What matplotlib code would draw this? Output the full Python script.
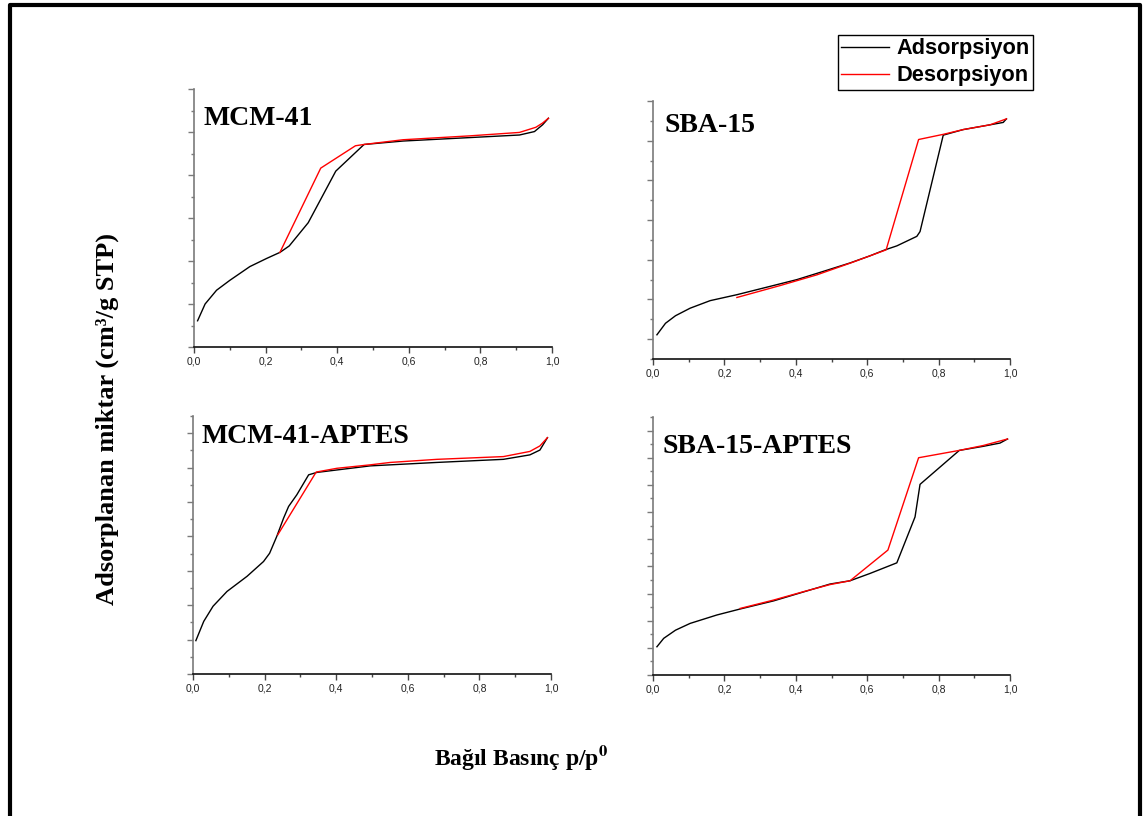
import matplotlib
matplotlib.use("Agg")
import matplotlib.pyplot as plt
from matplotlib.lines import Line2D
from matplotlib.ticker import MultipleLocator, FuncFormatter

plt.rcParams['mathtext.fontset'] = 'stix'

W, H = 1144, 816

# MCM-41 isotherm (y in arbitrary units)
mcm_ads_x = [0.010, 0.031, 0.063, 0.100, 0.156, 0.203, 0.240, 0.266, 0.319, 0.396, 0.475,
             0.584, 0.770, 0.909, 0.951, 0.974, 0.990]
mcm_ads_y = [61, 100, 132, 155, 187, 206, 220, 235, 289, 409, 471,
             479, 487, 493, 501, 517, 532]
mcm_des_x = [0.990, 0.974, 0.955, 0.909, 0.770, 0.584, 0.475, 0.451, 0.354, 0.240]
mcm_des_y = [532, 521, 511, 499, 491, 482, 471, 468, 416, 220]

# SBA-15 isotherm
sba_ads_x = [0.011, 0.035, 0.063, 0.104, 0.160, 0.235, 0.328, 0.403, 0.478, 0.552, 0.608,
             0.650, 0.683, 0.739, 0.748, 0.813, 0.869, 0.944, 0.981, 0.990]
sba_ads_y = [11, 40, 59, 78, 97, 112, 133, 150, 171, 192, 210,
             225, 235, 259, 271, 514, 528, 540, 546, 555]
sba_des_x = [0.990, 0.944, 0.869, 0.813, 0.744, 0.653, 0.608, 0.557, 0.459, 0.356, 0.235]
sba_des_y = [555, 540, 528, 516, 503, 225, 210, 193, 162, 135, 105]

# MCM-41-APTES isotherm
mcma_ads_x = [0.008, 0.030, 0.056, 0.095, 0.151, 0.197, 0.214, 0.234, 0.253, 0.267, 0.290,
              0.323, 0.346, 0.495, 0.681, 0.867, 0.941, 0.969, 0.990]
mcma_ads_y = [97, 153, 197, 240, 284, 327, 351, 400, 453, 487, 521,
              579, 586, 605, 615, 624, 637, 651, 687]
mcma_des_x = [0.990, 0.969, 0.941, 0.867, 0.681, 0.551, 0.495, 0.402, 0.344, 0.237]
mcma_des_y = [687, 663, 647, 632, 624, 615, 608, 598, 587, 405]

# SBA-15-APTES isotherm
sbaa_ads_x = [0.011, 0.030, 0.063, 0.104, 0.179, 0.244, 0.338, 0.422, 0.496, 0.552, 0.608,
              0.683, 0.734, 0.748, 0.858, 0.925, 0.972, 0.993]
sbaa_ads_y = [104, 135, 165, 190, 221, 243, 273, 306, 335, 347, 374,
              413, 582, 702, 827, 842, 854, 869]
sbaa_des_x = [0.993, 0.925, 0.858, 0.744, 0.658, 0.552, 0.496, 0.422, 0.338, 0.244]
sbaa_des_y = [869, 845, 827, 800, 460, 347, 333, 307, 276, 245]

panel_names = ["MCM-41", "SBA-15", "MCM-41-APTES", "SBA-15-APTES"]
x_ticks = [0.0, 0.2, 0.4, 0.6, 0.8, 1.0]


def px_axes(fig, left, top, right, bottom):
    return fig.add_axes([left / W, 1 - bottom / H, (right - left) / W, (bottom - top) / H])


def style_axes(ax, ylim):
    ax.set_xlim(0, 1.0)
    ax.set_ylim(*ylim)
    for s in ['top', 'right']:
        ax.spines[s].set_visible(False)
    ax.spines['left'].set_color('#7a7a7a')
    ax.spines['bottom'].set_color('#111111')
    ax.spines['left'].set_linewidth(1.2)
    ax.spines['bottom'].set_linewidth(1.2)
    ax.set_xticks(x_ticks)
    ax.xaxis.set_minor_locator(MultipleLocator(0.1))
    ax.yaxis.set_major_locator(MultipleLocator(100))
    ax.yaxis.set_minor_locator(MultipleLocator(50))
    ax.xaxis.set_major_formatter(FuncFormatter(lambda v, p: f"{v:.1f}".replace('.', ',')))
    ax.set_yticklabels([])
    ax.tick_params(axis='x', which='major', length=4, width=1, color='#444444',
                   labelsize=7.5, labelcolor='#222222', pad=3)
    ax.tick_params(axis='x', which='minor', length=2, width=1, color='#444444')
    ax.tick_params(axis='y', which='major', length=4, width=1, color='#7a7a7a')
    ax.tick_params(axis='y', which='minor', length=2, width=1, color='#7a7a7a')
    for lab in ax.get_xticklabels():
        lab.set_family('Liberation Sans')


fig = plt.figure(figsize=(W / 100, H / 100), dpi=100)
fig.patch.set_facecolor('white')

ax1 = px_axes(fig, 194, 89, 552, 347)
ax2 = px_axes(fig, 653, 101, 1010, 359)
ax3 = px_axes(fig, 193, 416, 551, 674)
ax4 = px_axes(fig, 653, 417, 1010, 675)

panels = [
    (ax1, mcm_ads_x, mcm_ads_y, mcm_des_x, mcm_des_y, (0, 600)),
    (ax2, sba_ads_x, sba_ads_y, sba_des_x, sba_des_y, (-50, 600)),
    (ax3, mcma_ads_x, mcma_ads_y, mcma_des_x, mcma_des_y, (0, 750)),
    (ax4, sbaa_ads_x, sbaa_ads_y, sbaa_des_x, sbaa_des_y, (0, 950)),
]

for ax, ax_x, ax_y, dx, dy, ylim in panels:
    ax.plot(ax_x, ax_y, color='black', lw=1.0, label='Adsorpsiyon')
    ax.plot(dx, dy, color='red', lw=1.0, label='Desorpsiyon')
    style_axes(ax, ylim)

# panel names (left x, baseline y in pixels)
name_pos = [(203, 125), (665, 132), (201, 443), (663, 453)]
for name, (x, y) in zip(panel_names, name_pos):
    fig.text(x / W, 1 - y / H, name, family='Liberation Serif', weight='bold',
             fontsize=20, ha='left', va='baseline')

fig.text(107 / W, 1 - 419 / H, "Adsorplanan miktar (cm³/g STP)", family='Liberation Serif',
         weight='bold', fontsize=19, rotation=90, ha='center', va='center')
fig.text(521 / W, 1 - 757 / H, r"Bağıl Basınç p/p$^{\mathbf{0}}$", family='Liberation Serif',
         weight='bold', fontsize=17, ha='center', va='center')

handles, labels = ax1.get_legend_handles_labels()
leg = fig.legend(handles, labels, loc='upper left', bbox_to_anchor=(838 / W, 1 - 35 / H),
                 borderaxespad=0, frameon=True, fancybox=False, framealpha=1,
                 edgecolor='black', handlelength=2.2, handletextpad=0.35,
                 labelspacing=0.28, borderpad=0.15,
                 prop={'family': 'Liberation Sans', 'weight': 'bold', 'size': 15.7})
leg.get_frame().set_linewidth(1.0)

# outer frame (no bottom edge)
x0, x1, y0 = 10 / W, 1140 / W, 1 - 5 / H
fig.add_artist(Line2D([x0, x0, x1, x1], [0, y0, y0, 0], transform=fig.transFigure,
                      color='black', lw=3))

fig.savefig('out.png', dpi=100)
